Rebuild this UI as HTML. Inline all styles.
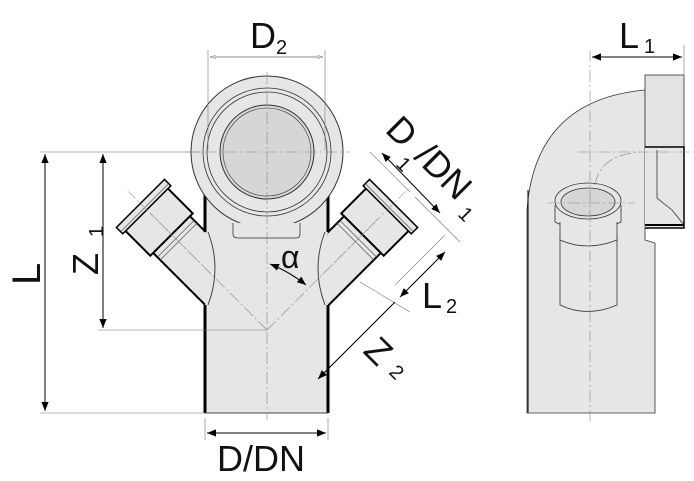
<!DOCTYPE html>
<html><head><meta charset="utf-8"><style>
html,body{margin:0;padding:0;background:#fff}
svg{display:block}
text{font-family:"Liberation Sans",sans-serif;fill:#111}
</style></head><body>
<svg width="694" height="481" viewBox="0 0 694 481" xmlns="http://www.w3.org/2000/svg">
<defs>
<marker id="a" viewBox="0 0 10 10" refX="10" refY="5" markerWidth="9" markerHeight="9" orient="auto-start-reverse"><path d="M0,1 L10,5 L0,9z" fill="#000"/></marker>
<marker id="o" viewBox="0 0 10 10" refX="10" refY="5" markerWidth="8" markerHeight="8" orient="auto-start-reverse"><path d="M0,2 L10,5 L0,8z" fill="#ddd" stroke="#666" stroke-width="0.8"/></marker>
<g id="br">
  <rect x="60" y="-26" width="80" height="52" fill="#e6e6e6" stroke="#000" stroke-width="2"/>
  <line x1="125" y1="-26" x2="125" y2="26" stroke="#555" stroke-width="0.7"/>
  <line x1="129" y1="-26" x2="129" y2="26" stroke="#555" stroke-width="0.7"/>
  <rect x="135" y="-30" width="40" height="60" fill="#e6e6e6" stroke="#000" stroke-width="2"/>
  <rect x="170" y="-34" width="9" height="68" fill="#e6e6e6" stroke="#000" stroke-width="1.5"/>
  <line x1="173" y1="-33" x2="173" y2="33" stroke="#555" stroke-width="0.7"/>
  <line x1="60" y1="0" x2="200" y2="0" stroke="#999" stroke-width="0.6" stroke-dasharray="10,3,2,3"/>
</g>
</defs>

<!-- main front view -->
<use href="#br" transform="translate(267,330) rotate(-135)"/>
<use href="#br" transform="translate(267,330) rotate(-45)"/>
<path d="M205,190 L205,232 Q218,268 205,305 L205,413 L328,413 L328,305 Q316,268 328,232 L328,190 Z" fill="#e6e6e6"/>
<path d="M205,190 L205,232 M205,305 L205,413 M328,190 L328,232 M328,305 L328,413" stroke="#000" stroke-width="3" fill="none"/>
<path d="M208,232 Q222,268 208,305 M325,232 Q311,268 325,305" stroke="#444" stroke-width="1" fill="none"/>
<line x1="205" y1="413" x2="328" y2="413" stroke="#444" stroke-width="1"/>
<circle cx="267" cy="152" r="76" fill="#e6e6e6" stroke="#333" stroke-width="1"/>
<circle cx="267" cy="152" r="64" fill="none" stroke="#333" stroke-width="0.8"/>
<circle cx="267" cy="152" r="60" fill="none" stroke="#333" stroke-width="0.8"/>
<circle cx="267" cy="152" r="47" fill="#d6d6d6" stroke="#333" stroke-width="1"/>
<circle cx="267" cy="152" r="44" fill="none" stroke="#333" stroke-width="0.6"/>
<path d="M233,223 L233,234 Q233,238 238,238 L296,238 Q300,238 300,234 L300,223" fill="#e6e6e6" stroke="#333" stroke-width="0.8"/>
<!-- center lines -->
<g stroke="#888" stroke-width="0.6" stroke-dasharray="12,3,2,3" fill="none">
<line x1="267" y1="72" x2="267" y2="420"/>
<line x1="185" y1="152" x2="350" y2="152"/>
<line x1="267" y1="330" x2="380" y2="217"/>
<line x1="267" y1="330" x2="150" y2="213"/>
</g>
<g stroke="#777" stroke-width="0.6" fill="none">
<line x1="40" y1="152" x2="200" y2="152"/>
<line x1="40" y1="413" x2="205" y2="413"/>
<line x1="98" y1="330" x2="267" y2="330"/>
<line x1="205" y1="418" x2="205" y2="440"/>
<line x1="328" y1="418" x2="328" y2="440"/>
<line x1="208" y1="50" x2="208" y2="150"/>
<line x1="325" y1="50" x2="325" y2="150"/>
<line x1="370" y1="152" x2="410" y2="192"/>
<line x1="415" y1="197" x2="460" y2="242"/>
<line x1="395" y1="285" x2="445" y2="235"/>
<line x1="360" y1="282" x2="410" y2="312"/>
<line x1="320" y1="377" x2="340" y2="357"/>
</g>
<!-- dims -->
<g stroke="#000" stroke-width="1" fill="none">
<line x1="45" y1="154" x2="45" y2="411" marker-start="url(#a)" marker-end="url(#a)"/>
<line x1="103" y1="154" x2="103" y2="328" marker-start="url(#a)" marker-end="url(#a)"/>
<line x1="207" y1="433" x2="326" y2="433" marker-start="url(#a)" marker-end="url(#a)"/>
<line x1="210" y1="57" x2="323" y2="57" stroke="#666" stroke-width="0.7" marker-start="url(#o)" marker-end="url(#o)"/>
<line x1="382" y1="153" x2="440" y2="213" marker-start="url(#a)" marker-end="url(#a)"/>
<line x1="445" y1="252" x2="400" y2="297" marker-start="url(#a)" marker-end="url(#a)"/>
<line x1="395" y1="302" x2="318" y2="379" marker-end="url(#a)"/>
<path d="M270,264 Q290,272 306,285" marker-start="url(#a)" marker-end="url(#a)"/>
</g>
<text x="250" y="48" font-size="36">D</text><text x="276" y="54" font-size="20">2</text>
<text x="217" y="471" font-size="36">D/DN</text>
<text transform="translate(40,285) rotate(-90)" font-size="40">L</text>
<text transform="translate(98,275) rotate(-90)" font-size="36">Z</text>
<text transform="translate(103,237) rotate(-90)" font-size="20">1</text>
<text x="281" y="268" font-size="32">α</text>
<text transform="translate(384,131) rotate(45)" font-size="36">D</text>
<text transform="translate(395,165) rotate(45)" font-size="20">1</text>
<text transform="translate(413,158) rotate(45)" font-size="36">/DN</text>
<text transform="translate(457,215) rotate(45)" font-size="20">1</text>
<text x="422" y="308" font-size="36">L</text><text x="446" y="313" font-size="20">2</text>
<text transform="translate(362,352) rotate(45)" font-size="36">Z</text>
<text transform="translate(388,373) rotate(45)" font-size="20">2</text>

<!-- side view -->
<path d="M527,413 L527,210 Q535,100 645,90 L645,240 L655,243 L655,413 Z" fill="#e6e6e6" stroke="#333" stroke-width="0.8"/>
<path d="M528,413 L528,190" stroke="#222" stroke-width="1.2"/>
<rect x="645" y="75" width="39" height="72" fill="#e3e3e3" stroke="#333" stroke-width="0.8"/>
<path d="M645,147 L684,147 L684,228 L645,228" fill="#e6e6e6" stroke="#000" stroke-width="1.5"/>
<path d="M657,150 L657,198 L672,210 L684,225" fill="none" stroke="#333" stroke-width="0.8"/>
<line x1="645" y1="225" x2="684" y2="225" stroke="#000" stroke-width="2"/>
<path d="M560,235 L560,305 Q587,318 617,305 L617,235" fill="#e6e6e6" stroke="#333" stroke-width="0.8"/>
<path d="M555,205 L555,222 Q587,238 621,222 L621,205" fill="#e6e6e6" stroke="#333" stroke-width="0.8"/>
<path d="M560,222 L560,240 Q587,252 617,240 L617,222" fill="#e6e6e6" stroke="#333" stroke-width="0.8"/>
<ellipse cx="588" cy="201" rx="33" ry="18" fill="#e6e6e6" stroke="#333" stroke-width="0.8"/>
<ellipse cx="588" cy="202" rx="27" ry="14" fill="#d6d6d6" stroke="#333" stroke-width="0.8"/>
<g stroke="#888" stroke-width="0.6" stroke-dasharray="12,3,2,3" fill="none">
<line x1="590" y1="50" x2="590" y2="425"/>
<line x1="578" y1="152" x2="694" y2="152"/>
<line x1="548" y1="203" x2="635" y2="203"/>
<path d="M595,185 Q600,155 640,152"/>
</g>
<line x1="592" y1="57" x2="682" y2="57" stroke="#000" marker-start="url(#a)" marker-end="url(#a)"/>
<line x1="684" y1="45" x2="684" y2="75" stroke="#777" stroke-width="0.6"/>
<text x="619" y="48" font-size="36">L</text><text x="644" y="53" font-size="20">1</text>
</svg>
</body></html>
